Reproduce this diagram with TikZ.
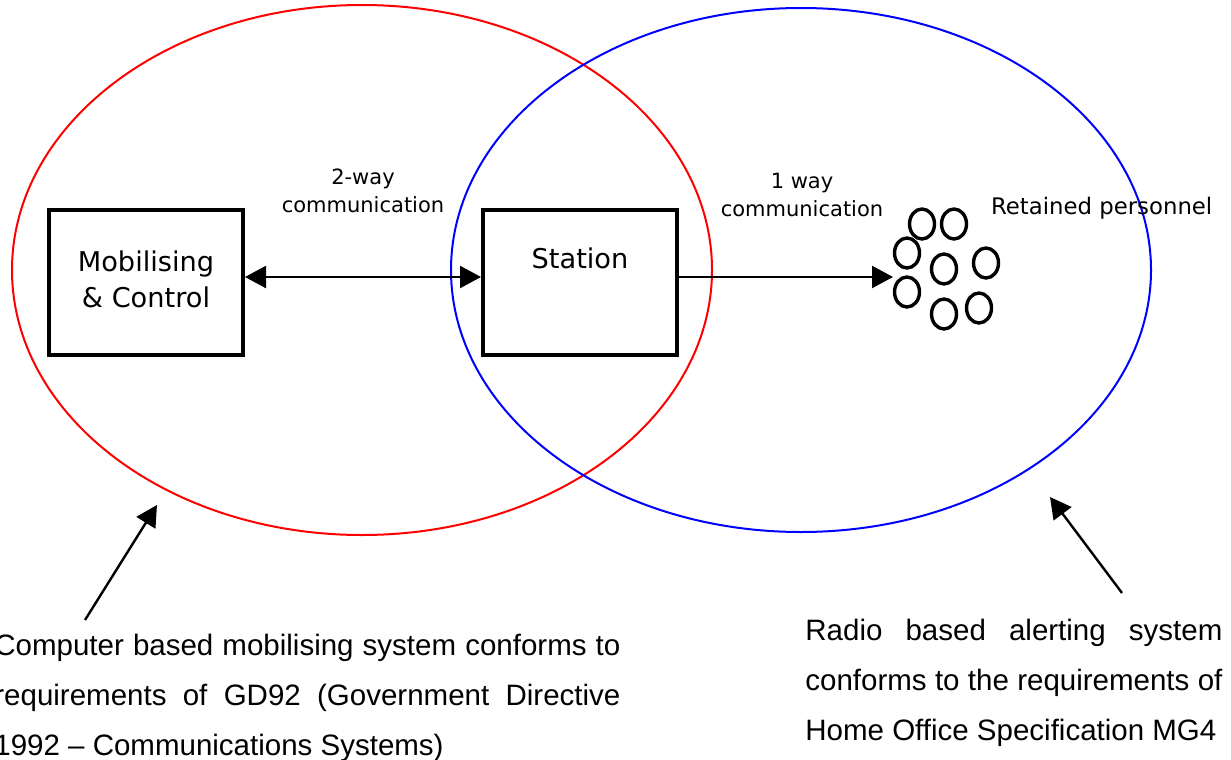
\documentclass[tikz,border=0pt]{standalone}
\usepackage{fontspec}
\setmainfont{Liberation Sans}
\newfontfamily\boxfont{DejaVu Sans}
\usetikzlibrary{arrows.meta,shapes.geometric}

\tikzset{
  box/.style={draw, line width=2pt, minimum width=97pt, minimum height=72.5pt, inner sep=0pt},
  boxtext/.style={font=\boxfont\fontsize{13.6}{18}\selectfont, align=center},
  smalltext/.style={font=\boxfont\fontsize{10.5}{14}\selectfont, align=center},
  link/.style={line width=1.2pt, >={Triangle[length=10.5pt,width=11pt]}},
  person/.style={draw, ellipse, line width=1.7pt, minimum width=12.5pt, minimum height=15pt, inner sep=0pt},
  note/.style={font=\fontsize{14.75}{25}\selectfont, align=justify, anchor=north west, inner sep=0pt}
}

\begin{document}
\begin{tikzpicture}[x=0.5pt, y=-0.5pt]
    \useasboundingbox (0,0) rectangle (1231,760);
    % the two systems
    \draw [red, line width=1pt] (362,270) ellipse [x radius=350, y radius=265];
    \draw [blue, line width=1pt] (801,270) ellipse [x radius=350, y radius=262];

    \node [box] (mob) at (146,282) {};
    \node [boxtext] at ([yshift=1.5pt]mob.center) {Mobilising\\\& Control};
    \node [box] (station) at (580,282) {};
    \node [boxtext] at ([yshift=12pt]station.center) {Station};

    % retained personnel
    \foreach \n/\px/\py in {1/922/224, 2/954/224, 3/907/253, 4/944/269, 5/986/263, 6/907/292, 7/944/314, 8/979/308}
        \node [person] (p\n) at (\px,\py) {};
    \node [boxtext, font=\boxfont\fontsize{11.4}{14}\selectfont, anchor=west] (ret) at (984,208) {Retained personnel};
    \coordinate (crowd) at (893,277);

    \draw [link, <->] (mob.east |- crowd) -- (station.west |- crowd);
    \draw [link, ->] (station.east |- crowd) -- (crowd);
    \node [smalltext] (two) at (363,191) {2-way\\communication};
    \node [smalltext] (one) at (802,195) {1 way\\communication};

    % notes
    \node [note, text width=313pt] (gd) at (-6,634) {Computer based mobilising system conforms to\linebreak
        requirements of GD92 (Government Directive\linebreak
        1992 -- Communications Systems)};
    \node [note, text width=208.5pt] (mg) at (805,619) {Radio based alerting system
        conforms to the requirements of\linebreak Home Office Specification MG4};

    \coordinate (gdtail) at (85,620);
    \coordinate (redrim) at (157,505);
    \coordinate (mgtail) at (1122,593);
    \coordinate (bluerim) at (1050,497);
    \draw [link, ->] (gdtail) -- (redrim);
    \draw [link, ->] (mgtail) -- (bluerim);
\end{tikzpicture}
\end{document}
